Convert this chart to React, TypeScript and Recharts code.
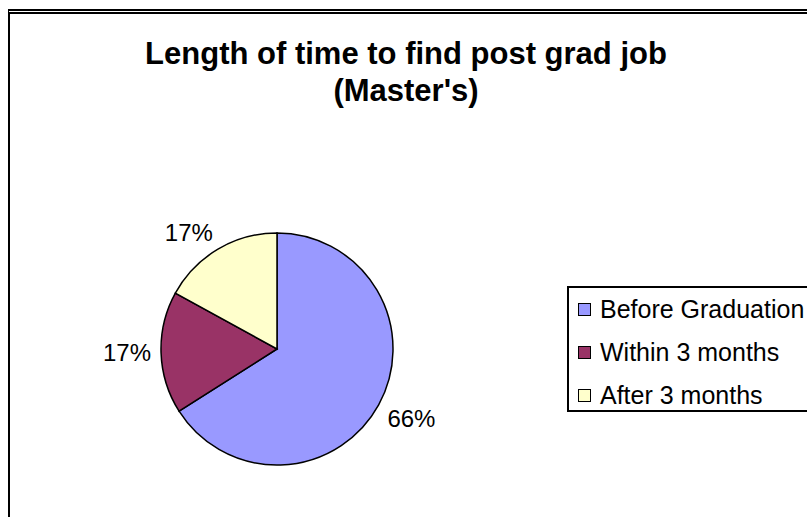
import { PieChart, Pie, Cell, Legend } from 'recharts'

const categories = ['Before Graduation', 'Within 3 months', 'After 3 months']
const shares = [66, 17, 17]
const sliceColors = ['#9999FF', '#993366', '#FFFFCC']
const titleLines = ['Length of time to find post grad job', "(Master's)"]

const data = categories.map((name, i) => ({ name, value: shares[i] }))

const FONT = '"Liberation Sans", Arial, sans-serif'
const RADIAN = Math.PI / 180

// percentage labels sit just outside the rim, box nearest edge towards the pie
function renderLabel(props: any) {
  const { cx, cy, midAngle, outerRadius, percent } = props
  const cos = Math.cos(-midAngle * RADIAN)
  const sin = Math.sin(-midAngle * RADIAN)
  const px = cx + (outerRadius + 10) * cos
  const py = cy + (outerRadius + 10) * sin
  const anchor = cos > 0.2 ? 'start' : cos < -0.2 ? 'end' : 'middle'
  const y = sin > 0.2 ? py + 17 : sin < -0.2 ? py : py + 8
  return (
    <text x={px} y={y} textAnchor={anchor} fontSize={24} fontFamily={FONT} fill="#000">
      {`${Math.round(percent * 100)}%`}
    </text>
  )
}

function LegendBox({ payload }: any) {
  // keep the series order, not alphabetical
  const items = [...(payload || [])].sort(
    (a: any, b: any) => categories.indexOf(a.value) - categories.indexOf(b.value)
  )
  return (
    <div
      style={{
        width: 258,
        height: 122,
        border: '2px solid #000',
        background: '#fff',
        fontFamily: FONT,
        fontSize: 25,
        boxSizing: 'content-box',
      }}
    >
      {items.map((entry: any, i: number) => (
        <div key={i} style={{ display: 'flex', alignItems: 'center', height: 43, whiteSpace: 'nowrap' }}>
          <span
            style={{
              display: 'inline-block',
              width: 11,
              height: 11,
              marginLeft: 9,
              marginRight: 9,
              border: '1.5px solid #000',
              background: entry.color,
            }}
          />
          <span style={{ color: '#000' }}>{entry.value}</span>
        </div>
      ))}
    </div>
  )
}

export default function App() {
  return (
    <div style={{ position: 'absolute', left: 0, top: 0, width: 807, height: 517, overflow: 'hidden', background: '#fff' }}>
      {/* chart frame, right and bottom edges fall outside the picture */}
      <div
        style={{
          position: 'absolute',
          left: 8,
          top: 9,
          width: 900,
          height: 600,
          borderLeft: '2px solid #000',
          borderTop: '5px double #000',
        }}
      />
      <div style={{ position: 'absolute', left: 0, top: 0 }}>
        <PieChart width={807} height={517} margin={{ top: 0, right: 0, bottom: 0, left: 0 }}>
          <text x={406} y={64} textAnchor="middle" fontSize={31} fontWeight="bold" fontFamily={FONT} fill="#000">
            {titleLines[0]}
          </text>
          <text x={406} y={101} textAnchor="middle" fontSize={31} fontWeight="bold" fontFamily={FONT} fill="#000">
            {titleLines[1]}
          </text>
          <Pie
            data={data}
            dataKey="value"
            nameKey="name"
            cx={277}
            cy={349}
            outerRadius={116}
            startAngle={90}
            endAngle={-270}
            stroke="#000"
            strokeWidth={1.5}
            label={renderLabel}
            labelLine={false}
            isAnimationActive={false}
          >
            {data.map((d, i) => (
              <Cell key={d.name} fill={sliceColors[i]} />
            ))}
          </Pie>
          <Legend
            layout="vertical"
            align="right"
            verticalAlign="middle"
            content={<LegendBox />}
            wrapperStyle={{ left: 567, top: 286, width: 262, right: 'auto', bottom: 'auto' }}
          />
        </PieChart>
      </div>
    </div>
  )
}
